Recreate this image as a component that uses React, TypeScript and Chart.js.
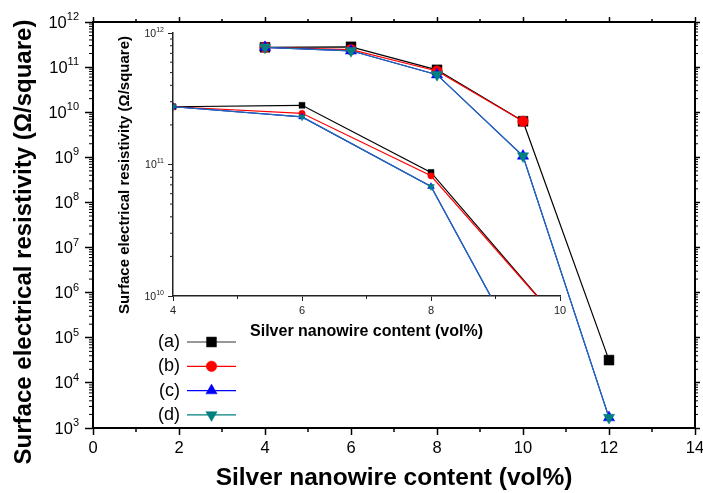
import React, { useEffect, useRef } from 'react';
import { Chart, registerables } from 'chart.js';
import { drawPoint } from 'chart.js/helpers';

Chart.register(...registerables);

// ---------- data ----------
const contentVol = [4, 6, 8, 10, 12];
const seriesA = [2.75e11, 2.82e11, 8.7e10, 6.3e9, 3.2e4];
const seriesB = [2.75e11, 2.45e11, 8.2e10, 6.3e9, null];
const seriesC = [2.75e11, 2.3e11, 6.8e10, 1.07e9, 1.7e3];
const seriesD = [2.75e11, 2.3e11, 6.8e10, 1.07e9, 1.7e3];
const seriesLabels = ['(a)', '(b)', '(c)', '(d)'];
const xTitle = 'Silver nanowire content (vol%)';
const yTitle = 'Surface electrical resistivity (Ω/square)';
const mainXTicks = [0, 2, 4, 6, 8, 10, 12, 14];
const mainYExponents = [3, 4, 5, 6, 7, 8, 9, 10, 11, 12];
const insetXTicks = [4, 6, 8, 10];
const insetYExponents = [10, 11, 12];

const FONT = '"Liberation Sans", Arial, sans-serif';

const styles = [
  { line: '#000000', fill: '#000000', shape: 'rect', rot: 0, legendLine: '#333333' },
  { line: '#ff0000', fill: '#ff0000', shape: 'circle', rot: 0, legendLine: '#ff0000' },
  { line: '#0000ff', fill: '#0000ff', shape: 'triangle', rot: 0, legendLine: '#0000ff' },
  { line: '#1f6fa8', fill: '#008080', shape: 'triangle', rot: 180, legendLine: '#008080' },
];

const allSeries = [seriesA, seriesB, seriesC, seriesD];

function buildDatasets(scale: number) {
  const radii = [7 * scale, 5.3 * scale, 6.5 * scale, 6.5 * scale];
  return allSeries.map((s, i) => ({
    label: seriesLabels[i],
    data: contentVol.map((x, j) => ({ x, y: s[j] })),
    borderColor: styles[i].line,
    backgroundColor: styles[i].fill,
    borderWidth: 1.2,
    pointStyle: styles[i].shape,
    pointRotation: styles[i].rot,
    pointRadius: radii[i],
    pointBackgroundColor: styles[i].fill,
    pointBorderColor: styles[i].fill,
    pointBorderWidth: 0.5,
    tension: 0,
    spanGaps: false,
    order: 3 - i,
  }));
}

function drawPow(ctx: CanvasRenderingContext2D, exp: string, xRight: number, yc: number,
  baseSize: number, supSize: number, rise: number, color: string) {
  ctx.fillStyle = color;
  ctx.textBaseline = 'middle';
  ctx.textAlign = 'left';
  ctx.font = `${supSize}px ${FONT}`;
  const wSup = ctx.measureText(exp).width;
  ctx.font = `${baseSize}px ${FONT}`;
  const wBase = ctx.measureText('10').width;
  ctx.fillText('10', xRight - wSup - wBase, yc);
  ctx.font = `${supSize}px ${FONT}`;
  ctx.fillText(exp, xRight - wSup, yc - rise);
}

function seg(ctx: CanvasRenderingContext2D, x1: number, y1: number, x2: number, y2: number) {
  ctx.beginPath();
  ctx.moveTo(x1, y1);
  ctx.lineTo(x2, y2);
  ctx.stroke();
}

const mainDecor = {
  id: 'mainDecor',
  afterDraw(chart: any) {
    const { ctx, chartArea } = chart;
    const xs = chart.scales.x;
    const ys = chart.scales.y;
    ctx.save();
    ctx.strokeStyle = '#000';
    ctx.lineWidth = 1.5;
    for (let v = 1; v < 14; v += 2) {
      const px = xs.getPixelForValue(v);
      seg(ctx, px, chartArea.bottom, px, chartArea.bottom + 4);
      seg(ctx, px, chartArea.top, px, chartArea.top - 3);
    }
    ctx.lineWidth = 1;
    for (let e = mainYExponents[0]; e < mainYExponents[mainYExponents.length - 1]; e++) {
      for (let m = 2; m <= 9; m++) {
        const py = ys.getPixelForValue(m * Math.pow(10, e));
        seg(ctx, chartArea.left - 4, py, chartArea.left, py);
        seg(ctx, chartArea.right, py, chartArea.right + 3, py);
      }
    }
    // y tick labels
    mainYExponents.forEach((e) => {
      const py = ys.getPixelForValue(Math.pow(10, e));
      drawPow(ctx, String(e), chartArea.left - 14, py + 1, 16.5, 11, 6, '#000');
    });
    // y title
    ctx.save();
    ctx.translate(31, 242);
    ctx.rotate(-Math.PI / 2);
    ctx.font = `bold 24px ${FONT}`;
    ctx.fillStyle = '#000';
    ctx.textAlign = 'center';
    ctx.textBaseline = 'alphabetic';
    ctx.fillText(yTitle, 0, 0);
    ctx.restore();
    // legend
    const radii = [7, 5.3, 6.5, 6.5];
    seriesLabels.forEach((lab, i) => {
      const yc = 342 + i * 24.3;
      ctx.font = `18px ${FONT}`;
      ctx.fillStyle = '#000';
      ctx.textAlign = 'right';
      ctx.textBaseline = 'middle';
      ctx.fillText(lab, 180, yc);
      ctx.strokeStyle = styles[i].legendLine;
      ctx.lineWidth = 1.2;
      seg(ctx, 187, yc, 236, yc);
      ctx.fillStyle = styles[i].fill;
      ctx.strokeStyle = styles[i].fill;
      ctx.lineWidth = 0.5;
      drawPoint(ctx, { pointStyle: styles[i].shape, rotation: styles[i].rot, radius: radii[i], borderWidth: 0.5 } as any, 211.5, yc);
    });
    ctx.restore();
  },
};

const insetDecor = {
  id: 'insetDecor',
  afterDraw(chart: any) {
    const { ctx, chartArea } = chart;
    const xs = chart.scales.x;
    const ys = chart.scales.y;
    ctx.save();
    ctx.strokeStyle = '#222';
    ctx.lineWidth = 1;
    for (let v = 5; v < 10; v += 2) {
      const px = xs.getPixelForValue(v);
      seg(ctx, px, chartArea.bottom, px, chartArea.bottom + 3);
    }
    for (let e = insetYExponents[0]; e < insetYExponents[insetYExponents.length - 1]; e++) {
      for (let m = 2; m <= 9; m++) {
        const py = ys.getPixelForValue(m * Math.pow(10, e));
        seg(ctx, chartArea.left - 3, py, chartArea.left, py);
      }
    }
    insetYExponents.forEach((e) => {
      const py = ys.getPixelForValue(Math.pow(10, e));
      drawPow(ctx, String(e), chartArea.left - 9, py + 1, 10.5, 7, 4, '#222');
    });
    ctx.save();
    ctx.translate(129, 175);
    ctx.rotate(-Math.PI / 2);
    ctx.font = `bold 15px ${FONT}`;
    ctx.fillStyle = '#000';
    ctx.textAlign = 'center';
    ctx.textBaseline = 'alphabetic';
    ctx.fillText(yTitle, 0, 0);
    ctx.restore();
    ctx.restore();
  },
};

function zeroPad(s: any) {
  s.paddingLeft = 0;
  s.paddingRight = 0;
  s.paddingTop = 0;
  s.paddingBottom = 0;
}

export default function App() {
  const mainRef = useRef<HTMLCanvasElement>(null);
  const insetRef = useRef<HTMLCanvasElement>(null);

  useEffect(() => {
    const majorTicksLog = (exps: number[]) => (s: any) => {
      s.ticks = exps.map((e) => ({ value: Math.pow(10, e), major: true }));
    };
    const linTicks = (vals: number[]) => (s: any) => {
      s.ticks = vals.map((v) => ({ value: v }));
    };

    const main = new Chart(mainRef.current!, {
      type: 'line',
      data: { datasets: buildDatasets(1) as any },
      plugins: [mainDecor],
      options: {
        responsive: false,
        animation: false,
        devicePixelRatio: 1,
        layout: { padding: 0 },
        plugins: { legend: { display: false }, tooltip: { enabled: false } },
        scales: {
          x: {
            type: 'linear', position: 'bottom', min: 0, max: 14,
            afterBuildTicks: linTicks(mainXTicks),
            ticks: { font: { family: FONT, size: 16.5 }, color: '#000', padding: 4, maxRotation: 0, autoSkip: false },
            grid: { drawOnChartArea: false, drawTicks: true, tickLength: 7, tickWidth: 1.5, tickColor: '#000' },
            border: { display: true, color: '#000', width: 2 },
            title: { display: true, text: xTitle, color: '#000', font: { family: FONT, size: 24.5, weight: 'bold', lineHeight: 1.2 }, padding: 0 },
            afterFit: (s: any) => { s.height = 65; zeroPad(s); },
          },
          x2: {
            type: 'linear', position: 'top', min: 0, max: 14,
            afterBuildTicks: linTicks(mainXTicks),
            ticks: { display: false },
            grid: { drawOnChartArea: false, drawTicks: true, tickLength: 5, tickWidth: 1.5, tickColor: '#000' },
            border: { display: true, color: '#000', width: 2 },
            afterFit: (s: any) => { s.height = 22; zeroPad(s); },
          },
          y: {
            type: 'logarithmic', position: 'left', min: 1e3, max: 1e12,
            afterBuildTicks: majorTicksLog(mainYExponents),
            ticks: { display: false },
            grid: { drawOnChartArea: false, drawTicks: true, tickLength: 8, tickWidth: 1.5, tickColor: '#000' },
            border: { display: true, color: '#000', width: 2 },
            afterFit: (s: any) => { s.width = 93; zeroPad(s); },
          },
          y2: {
            type: 'logarithmic', position: 'right', min: 1e3, max: 1e12,
            afterBuildTicks: majorTicksLog(mainYExponents),
            ticks: { display: false },
            grid: { drawOnChartArea: false, drawTicks: true, tickLength: 5, tickWidth: 1.5, tickColor: '#000' },
            border: { display: true, color: '#000', width: 2 },
            afterFit: (s: any) => { s.width = 8; zeroPad(s); },
          },
        },
      } as any,
    });

    const inset = new Chart(insetRef.current!, {
      type: 'line',
      data: { datasets: buildDatasets(0.6) as any },
      plugins: [insetDecor],
      options: {
        responsive: false,
        animation: false,
        devicePixelRatio: 1,
        layout: { padding: { top: 33, right: 143, bottom: 152, left: 0 } },
        plugins: { legend: { display: false }, tooltip: { enabled: false } },
        scales: {
          x: {
            type: 'linear', position: 'bottom', min: 4, max: 10,
            afterBuildTicks: linTicks(insetXTicks),
            ticks: { font: { family: FONT, size: 11 }, color: '#222', padding: 3, maxRotation: 0, autoSkip: false },
            grid: { drawOnChartArea: false, drawTicks: true, tickLength: 5, tickWidth: 1, tickColor: '#222' },
            border: { display: true, color: '#222', width: 1.5 },
            title: { display: true, text: xTitle, color: '#000', font: { family: FONT, size: 16, weight: 'bold', lineHeight: 1.2 }, padding: 0 },
            afterFit: (s: any) => { s.height = 45; zeroPad(s); },
          },
          y: {
            type: 'logarithmic', position: 'left', min: 1e10, max: 1e12,
            afterBuildTicks: majorTicksLog(insetYExponents),
            ticks: { display: false },
            grid: { drawOnChartArea: false, drawTicks: true, tickLength: 5, tickWidth: 1, tickColor: '#222' },
            border: { display: true, color: '#222', width: 1.5 },
            afterFit: (s: any) => { s.width = 173; zeroPad(s); },
          },
        },
      } as any,
    });

    return () => {
      main.destroy();
      inset.destroy();
    };
  }, []);

  return (
    <div style={{ position: 'fixed', left: 0, top: 0, width: 703, height: 493, background: '#fff' }}>
      <canvas ref={mainRef} width={703} height={493} style={{ position: 'absolute', left: 0, top: 0 }} />
      <canvas ref={insetRef} width={703} height={493} style={{ position: 'absolute', left: 0, top: 0 }} />
    </div>
  );
}
